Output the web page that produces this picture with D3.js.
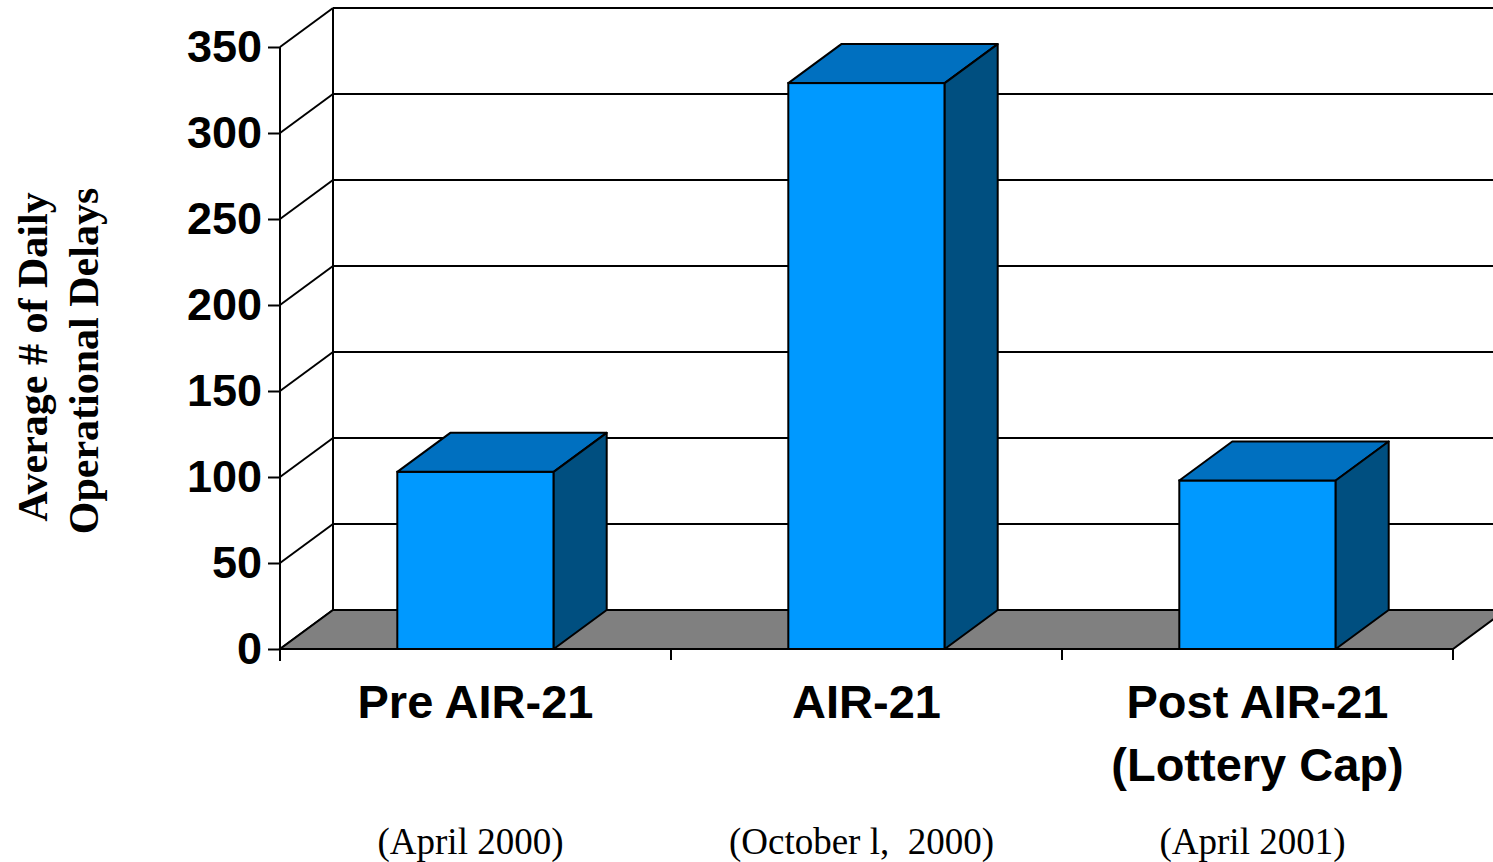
<!DOCTYPE html>
<html>
<head>
<meta charset="utf-8">
<script src="https://cdn.jsdelivr.net/npm/d3@7"></script>
<style>
  body { margin: 0; background: #fff; }
  svg { display: block; }
</style>
</head>
<body>
<script>
// Chart data
const categories = ['Pre AIR-21', 'AIR-21', 'Post AIR-21'];
const categorySecondLine = ['', '', '(Lottery Cap)'];
const dateLabels = ['(April 2000)', '(October l,  2000)', '(April 2001)'];
const delays = [103, 329, 98];
const yTicks = [0, 50, 100, 150, 200, 250, 300, 350];

document.addEventListener('DOMContentLoaded', () => {
  drawChart();
});

const drawChart = () => {
  const width = 1493, height = 862;
  const plot = {left: 280, right: 1453, top: 47, bottom: 649};
  const depth = {dx: 53, dy: -39};

  const svg = d3.select('body').append('svg')
        .attr('width', width)
        .attr('height', height);

  // Scales ------------------------
  const yScale = d3.scaleLinear()
        .domain([0, 350])
        .range([plot.bottom, plot.top]);

  const xScale = d3.scaleBand()
        .domain(categories)
        .range([plot.left, plot.right])
        .paddingInner(0.6)
        .paddingOuter(0.3);

  const catScale = d3.scaleBand()
        .domain(categories)
        .range([plot.left, plot.right]);

  const line = (g, x1, y1, x2, y2, w) => g.append('line')
        .attr('x1', x1).attr('y1', y1).attr('x2', x2).attr('y2', y2)
        .attr('stroke', '#000').attr('stroke-width', w || 2);

  // Walls & grid ------------------
  const grid = svg.append('g').attr('id', 'grid');
  yTicks.forEach(v => {
    const y = yScale(v);
    // back wall gridline
    line(grid, plot.left + depth.dx, y + depth.dy, plot.right + depth.dx, y + depth.dy);
    // side wall diagonal
    line(grid, plot.left, y, plot.left + depth.dx, y + depth.dy);
  });
  line(grid, plot.left + depth.dx, yScale(350) + depth.dy, plot.left + depth.dx, yScale(0) + depth.dy);

  // Floor
  const y0 = yScale(0);
  svg.append('path')
    .attr('d', `M${plot.left},${y0} L${plot.right},${y0} L${plot.right + depth.dx},${y0 + depth.dy} L${plot.left + depth.dx},${y0 + depth.dy} Z`)
    .attr('fill', '#808080')
    .attr('stroke', '#000')
    .attr('stroke-width', 2);

  // Y axis
  const yAxis = svg.append('g')
        .attr('id', 'y-axis')
        .attr('transform', `translate(${plot.left},0)`)
        .call(d3.axisLeft(yScale).tickValues(yTicks).tickSize(12).tickPadding(6));
  yAxis.select('.domain').attr('stroke-width', 2).attr('d', `M0,${plot.top} V${plot.bottom + 12}`);
  yAxis.selectAll('.tick line').attr('stroke-width', 2);
  yAxis.selectAll('.tick text')
    .attr('font-family', 'Liberation Sans, Arial, sans-serif')
    .attr('font-weight', 'bold')
    .attr('font-size', 45)
    .attr('fill', '#000');

  // X axis baseline & ticks
  const xAxis = svg.append('g').attr('id', 'x-axis');
  line(xAxis, plot.left, y0, plot.right, y0);
  categories.forEach(c => line(xAxis, catScale(c), y0, catScale(c), y0 + 11));
  line(xAxis, plot.right, y0, plot.right, y0 + 11);

  // Bars ---------------------------
  const bars = svg.append('g').attr('id', 'bars')
        .selectAll('g')
        .data(delays)
        .enter()
        .append('g');

  const bw = xScale.bandwidth();
  bars.append('rect')
    .attr('x', (d, i) => xScale(categories[i]))
    .attr('y', d => yScale(d))
    .attr('width', bw)
    .attr('height', d => y0 - yScale(d))
    .attr('fill', '#0099FF')
    .attr('stroke', '#000')
    .attr('stroke-width', 2);

  bars.append('path')
    .attr('d', (d, i) => {
      const x = xScale(categories[i]), y = yScale(d);
      return `M${x},${y} L${x + depth.dx},${y + depth.dy} L${x + bw + depth.dx},${y + depth.dy} L${x + bw},${y} Z`;
    })
    .attr('fill', '#0070C0')
    .attr('stroke', '#000')
    .attr('stroke-width', 2)
    .attr('stroke-linejoin', 'round');

  bars.append('path')
    .attr('d', (d, i) => {
      const x = xScale(categories[i]) + bw, y = yScale(d);
      return `M${x},${y} L${x + depth.dx},${y + depth.dy} L${x + depth.dx},${y0 + depth.dy} L${x},${y0} Z`;
    })
    .attr('fill', '#004F80')
    .attr('stroke', '#000')
    .attr('stroke-width', 2)
    .attr('stroke-linejoin', 'round');

  // Category labels
  const labels = svg.append('g')
        .attr('font-family', 'Liberation Sans, Arial, sans-serif')
        .attr('font-weight', 'bold')
        .attr('font-size', 47)
        .attr('text-anchor', 'middle');
  categories.forEach((c, i) => {
    const cx = catScale(c) + catScale.bandwidth() / 2;
    labels.append('text').attr('x', cx).attr('y', 718).text(c);
    if (categorySecondLine[i]) labels.append('text').attr('x', cx).attr('y', 781).text(categorySecondLine[i]);
  });

  // Date labels
  const dates = svg.append('g')
        .attr('font-family', 'Liberation Serif, Times New Roman, serif')
        .attr('font-size', 37)
        .attr('text-anchor', 'middle');
  dateLabels.forEach((t, i) => {
    const cx = catScale(categories[i]) + catScale.bandwidth() / 2 - 5;
    dates.append('text').attr('x', cx).attr('y', 854).attr('xml:space', 'preserve').style('white-space', 'pre').text(t);
  });

  // Y axis title
  const title = svg.append('g')
        .attr('font-family', 'Liberation Serif, Times New Roman, serif')
        .attr('font-weight', 'bold')
        .attr('font-size', 42)
        .attr('text-anchor', 'middle');
  title.append('text').attr('transform', 'translate(47,357) rotate(-90)').text('Average # of Daily');
  title.append('text').attr('transform', 'translate(98,361) rotate(-90)').text('Operational Delays');
};
</script>
</body>
</html>
